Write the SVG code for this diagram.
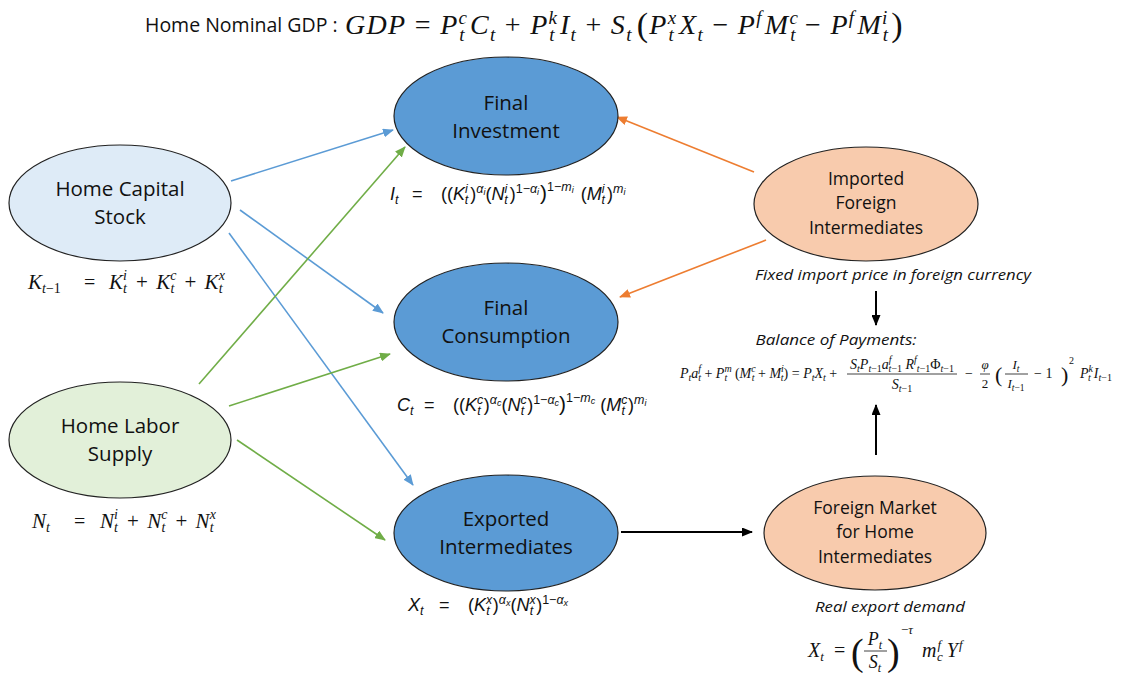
<svg xmlns="http://www.w3.org/2000/svg" width="1130" height="673" viewBox="0 0 1130 673">
<style>
.bg{fill:#ffffff}
.nd{stroke:#222;stroke-width:1.2}
.blue{fill:#5b9bd5}
.lblue{fill:#deebf7}
.lgreen{fill:#e2f0d9}
.orange{fill:#f8cbad}
.lbl{font-family:"Open Sans",sans-serif;fill:#111;text-anchor:middle}
.cap{font-family:"Open Sans",sans-serif;font-style:italic;fill:#111;text-anchor:middle}
.mt{font-family:"Liberation Serif",serif;font-style:italic;fill:#111}
.cf{font-family:"Liberation Sans",sans-serif;font-style:italic;fill:#111}
.up{font-style:normal}
.cb{stroke:#5b9bd5;stroke-width:1.6;fill:none}
.cg{stroke:#70ad47;stroke-width:1.6;fill:none}
.co{stroke:#ed7d31;stroke-width:1.6;fill:none}
.ck{stroke:#000;stroke-width:2;fill:none}
.bar{stroke:#111;stroke-width:0.8}
</style>
<defs>
<marker id="ab" markerUnits="userSpaceOnUse" markerWidth="11" markerHeight="9" refX="10" refY="4.5" orient="auto"><path d="M0,0 L11,4.5 L0,9 z" fill="#5b9bd5"/></marker>
<marker id="ag" markerUnits="userSpaceOnUse" markerWidth="11" markerHeight="9" refX="10" refY="4.5" orient="auto"><path d="M0,0 L11,4.5 L0,9 z" fill="#70ad47"/></marker>
<marker id="ao" markerUnits="userSpaceOnUse" markerWidth="11" markerHeight="9" refX="10" refY="4.5" orient="auto"><path d="M0,0 L11,4.5 L0,9 z" fill="#ed7d31"/></marker>
<marker id="ak" markerUnits="userSpaceOnUse" markerWidth="11" markerHeight="9" refX="10" refY="4.5" orient="auto"><path d="M0,0 L11,4.5 L0,9 z" fill="#000"/></marker>
</defs>
<rect class="bg" x="0" y="0" width="1130" height="673"/>

<g id="title">
<text class="lbl" x="145" y="32" font-size="19.5" style="text-anchor:start">Home Nominal GDP :</text>
<text class="mt" x="345" y="34" font-size="28" letter-spacing="1.3" xml:space="preserve">GDP<tspan class="up"> = </tspan>P<tspan font-size="19" dy="-10">c</tspan><tspan font-size="19" dx="-9" dy="17">t</tspan><tspan dx="4" dy="-7">C</tspan><tspan font-size="19" dy="7">t</tspan><tspan class="up" dy="-7"> + </tspan>P<tspan font-size="19" dy="-10">k</tspan><tspan font-size="19" dx="-9" dy="17">t</tspan><tspan dx="4" dy="-7">I</tspan><tspan font-size="19" dy="7">t</tspan><tspan class="up" dy="-7"> + </tspan>S<tspan font-size="19" dy="7">t</tspan><tspan class="up" font-size="34" dx="4" dy="-5">(</tspan><tspan dy="-2">P</tspan><tspan font-size="19" dy="-10">x</tspan><tspan font-size="19" dx="-9" dy="17">t</tspan><tspan dx="4" dy="-7">X</tspan><tspan font-size="19" dy="7">t</tspan><tspan class="up" dy="-7"> − </tspan>P<tspan font-size="19" dy="-10">f</tspan><tspan dx="2" dy="10">M</tspan><tspan font-size="19" dy="-10">c</tspan><tspan font-size="19" dx="-9" dy="17">t</tspan><tspan class="up" dy="-7"> − </tspan>P<tspan font-size="19" dy="-10">f</tspan><tspan dx="2" dy="10">M</tspan><tspan font-size="19" dy="-10">i</tspan><tspan font-size="19" dx="-6" dy="17">t</tspan><tspan class="up" font-size="34" dx="2" dy="-5">)</tspan></text>
</g>

<g id="connectors">
<line class="cb" x1="231" y1="181" x2="393" y2="130" marker-end="url(#ab)"/>
<line class="cb" x1="240" y1="210" x2="383" y2="313" marker-end="url(#ab)"/>
<line class="cb" x1="229" y1="233" x2="413" y2="485" marker-end="url(#ab)"/>
<line class="cg" x1="199" y1="384" x2="405" y2="147" marker-end="url(#ag)"/>
<line class="cg" x1="229" y1="406" x2="390" y2="354" marker-end="url(#ag)"/>
<line class="cg" x1="237" y1="440" x2="385" y2="540" marker-end="url(#ag)"/>
<line class="co" x1="754" y1="172" x2="617" y2="117" marker-end="url(#ao)"/>
<line class="co" x1="766" y1="240" x2="620" y2="297" marker-end="url(#ao)"/>
<line class="ck" x1="621" y1="532" x2="752" y2="532" marker-end="url(#ak)"/>
<line class="ck" x1="876" y1="291" x2="876" y2="325" stroke-width="1.5" marker-end="url(#ak)"/>
<line class="ck" x1="876" y1="455" x2="876" y2="405" stroke-width="1.5" marker-end="url(#ak)"/>
</g>

<g id="home-capital">
<ellipse class="nd lblue" cx="120" cy="203" rx="111" ry="58"/>
<text class="lbl" x="120" y="196" font-size="20.5">Home Capital</text>
<text class="lbl" x="120" y="224" font-size="20.5">Stock</text>
<text class="mt" x="28" y="289" font-size="21">K<tspan font-size="14" dy="4">t<tspan class="up">−1</tspan></tspan></text>
<text class="mt up" x="84" y="289" font-size="20">=</text>
<text class="mt" x="109" y="289" font-size="21" word-spacing="3" xml:space="preserve">K<tspan font-size="14" dy="-9">i</tspan><tspan font-size="14" dx="-4" dy="13">t</tspan><tspan class="up" dx="1" dy="-4"> + </tspan>K<tspan font-size="14" dy="-9">c</tspan><tspan font-size="14" dx="-6" dy="13">t</tspan><tspan class="up" dx="2" dy="-4"> + </tspan>K<tspan font-size="14" dy="-9">x</tspan><tspan font-size="14" dx="-6" dy="13">t</tspan></text>
</g>

<g id="home-labor">
<ellipse class="nd lgreen" cx="120" cy="440" rx="111" ry="58"/>
<text class="lbl" x="120" y="433" font-size="20.5">Home Labor</text>
<text class="lbl" x="120" y="461" font-size="20.5">Supply</text>
<text class="mt" x="32" y="528" font-size="21">N<tspan font-size="14" dy="4">t</tspan></text>
<text class="mt up" x="74" y="528" font-size="20">=</text>
<text class="mt" x="100" y="528" font-size="21" word-spacing="3" xml:space="preserve">N<tspan font-size="14" dy="-9">i</tspan><tspan font-size="14" dx="-4" dy="13">t</tspan><tspan class="up" dx="1" dy="-4"> + </tspan>N<tspan font-size="14" dy="-9">c</tspan><tspan font-size="14" dx="-6" dy="13">t</tspan><tspan class="up" dx="2" dy="-4"> + </tspan>N<tspan font-size="14" dy="-9">x</tspan><tspan font-size="14" dx="-6" dy="13">t</tspan></text>
</g>

<g id="final-investment">
<ellipse class="nd blue" cx="506" cy="116" rx="112" ry="59"/>
<text class="lbl" x="506" y="110" font-size="20.5">Final</text>
<text class="lbl" x="506" y="138" font-size="20.5">Investment</text>
<text class="cf" x="390" y="200" font-size="18">I<tspan font-size="12.5" dy="4">t</tspan></text>
<text class="cf up" x="412" y="200" font-size="18">=</text>
<text class="cf" x="441" y="200" font-size="18" xml:space="preserve"><tspan class="up">((</tspan>K<tspan font-size="12.5" dy="-7">i</tspan><tspan font-size="12.5" dx="-3" dy="11">t</tspan><tspan class="up" dx="2" dy="-4">)</tspan><tspan font-size="12.5" dy="-7">α</tspan><tspan font-size="9" dy="2">i</tspan><tspan class="up" dy="5">(</tspan>N<tspan font-size="12.5" dy="-7">i</tspan><tspan font-size="12.5" dx="-3" dy="11">t</tspan><tspan class="up" dx="2" dy="-4">)</tspan><tspan class="up" font-size="12.5" dy="-7">1−</tspan><tspan font-size="12.5">α</tspan><tspan font-size="9" dy="2">i</tspan><tspan class="up" font-size="21" dx="1" dy="5">)</tspan><tspan class="up" font-size="12.5" dy="-9">1−</tspan><tspan font-size="12.5">m</tspan><tspan font-size="9" dy="2">i</tspan><tspan class="up" dx="2" dy="7"> (</tspan>M<tspan font-size="12.5" dy="-7">i</tspan><tspan font-size="12.5" dx="-3" dy="11">t</tspan><tspan class="up" dx="2" dy="-4">)</tspan><tspan font-size="12.5" dy="-7">m</tspan><tspan font-size="9" dy="2">i</tspan></text>
</g>

<g id="final-consumption">
<ellipse class="nd blue" cx="506" cy="322" rx="112" ry="59"/>
<text class="lbl" x="506" y="315" font-size="20.5">Final</text>
<text class="lbl" x="506" y="343" font-size="20.5">Consumption</text>
<text class="cf" x="397" y="411" font-size="18">C<tspan font-size="12.5" dy="4">t</tspan></text>
<text class="cf up" x="424" y="411" font-size="18">=</text>
<text class="cf" x="453" y="411" font-size="18" xml:space="preserve"><tspan class="up">((</tspan>K<tspan font-size="12.5" dy="-7">c</tspan><tspan font-size="12.5" dx="-6" dy="11">t</tspan><tspan class="up" dx="3" dy="-4">)</tspan><tspan font-size="12.5" dy="-7">α</tspan><tspan font-size="9" dy="2">c</tspan><tspan class="up" dy="5">(</tspan>N<tspan font-size="12.5" dy="-7">c</tspan><tspan font-size="12.5" dx="-6" dy="11">t</tspan><tspan class="up" dx="3" dy="-4">)</tspan><tspan class="up" font-size="12.5" dy="-7">1−</tspan><tspan font-size="12.5">α</tspan><tspan font-size="9" dy="2">c</tspan><tspan class="up" font-size="21" dy="5">)</tspan><tspan class="up" font-size="12.5" dy="-9">1−</tspan><tspan font-size="12.5">m</tspan><tspan font-size="9" dy="2">c</tspan><tspan class="up" dy="7"> (</tspan>M<tspan font-size="12.5" dy="-7">c</tspan><tspan font-size="12.5" dx="-6" dy="11">t</tspan><tspan class="up" dx="3" dy="-4">)</tspan><tspan font-size="12.5" dy="-7">m</tspan><tspan font-size="9" dy="2">i</tspan></text>
</g>

<g id="exported-intermediates">
<ellipse class="nd blue" cx="506" cy="533" rx="112" ry="58"/>
<text class="lbl" x="506" y="526" font-size="20.5">Exported</text>
<text class="lbl" x="506" y="554" font-size="20.5">Intermediates</text>
<text class="cf" x="408" y="611" font-size="18">X<tspan font-size="12.5" dy="4">t</tspan></text>
<text class="cf up" x="439" y="611" font-size="18">=</text>
<text class="cf" x="468" y="611" font-size="18" xml:space="preserve"><tspan class="up">(</tspan>K<tspan font-size="12.5" dy="-7">x</tspan><tspan font-size="12.5" dx="-6" dy="11">t</tspan><tspan class="up" dx="3" dy="-4">)</tspan><tspan font-size="12.5" dy="-7">α</tspan><tspan font-size="9" dy="2">x</tspan><tspan class="up" dy="5">(</tspan>N<tspan font-size="12.5" dy="-7">x</tspan><tspan font-size="12.5" dx="-6" dy="11">t</tspan><tspan class="up" dx="3" dy="-4">)</tspan><tspan class="up" font-size="12.5" dy="-7">1−</tspan><tspan font-size="12.5">α</tspan><tspan font-size="9" dy="2">x</tspan></text>
</g>

<g id="imported-foreign-intermediates">
<ellipse class="nd orange" cx="866" cy="204" rx="112" ry="57"/>
<text class="lbl" x="866" y="185" font-size="17.5">Imported</text>
<text class="lbl" x="866" y="209" font-size="17.5">Foreign</text>
<text class="lbl" x="866" y="234" font-size="17.5">Intermediates</text>
<text class="cap" x="893" y="280" font-size="14.5" textLength="276" lengthAdjust="spacingAndGlyphs">Fixed import price in foreign currency</text>
</g>

<g id="balance-of-payments">
<text class="cap" x="836" y="345" font-size="14.5" textLength="161" lengthAdjust="spacingAndGlyphs">Balance of Payments:</text>
<text class="mt" x="680" y="378" font-size="14" xml:space="preserve">P<tspan font-size="10" dy="3">t</tspan><tspan dy="-3">a</tspan><tspan font-size="10" dy="-6">f</tspan><tspan font-size="10" dx="-3" dy="9">t</tspan><tspan class="up" dy="-3"> + </tspan>P<tspan font-size="10" dy="-6">m</tspan><tspan font-size="10" dx="-7" dy="9">t</tspan><tspan class="up" dx="4" dy="-3"> (</tspan>M<tspan font-size="10" dy="-6">c</tspan><tspan font-size="10" dx="-4" dy="9">t</tspan><tspan class="up" dy="-3"> + </tspan>M<tspan font-size="10" dy="-6">i</tspan><tspan font-size="10" dx="-3" dy="9">t</tspan><tspan class="up" dy="-3">) = </tspan>P<tspan font-size="10" dy="3">t</tspan><tspan dy="-3">X</tspan><tspan font-size="10" dy="3">t</tspan><tspan class="up" dy="-3"> +</tspan></text>
<text class="mt" x="902" y="369" font-size="14" text-anchor="middle">S<tspan font-size="10" dy="3">t</tspan><tspan dy="-3">P</tspan><tspan font-size="10" dy="3">t<tspan class="up">−1</tspan></tspan><tspan dy="-3">a</tspan><tspan font-size="10" dy="-6">f</tspan><tspan font-size="10" dx="-3" dy="9">t<tspan class="up">−1</tspan></tspan><tspan dy="-3"> R</tspan><tspan font-size="10" dy="-6">f</tspan><tspan font-size="10" dy="9">t<tspan class="up">−1</tspan></tspan><tspan class="up" dy="-3">Φ</tspan><tspan font-size="10" dy="3">t<tspan class="up">−1</tspan></tspan></text>
<line class="bar" x1="847" y1="374" x2="957" y2="374"/>
<text class="mt" x="902" y="389" font-size="14" text-anchor="middle">S<tspan font-size="10" dy="3">t<tspan class="up">−1</tspan></tspan></text>
<text class="mt up" x="965" y="378" font-size="14">−</text>
<text class="mt" x="985" y="369" font-size="13" text-anchor="middle">φ</text>
<line class="bar" x1="980" y1="374" x2="990" y2="374"/>
<text class="mt up" x="985" y="388" font-size="13" text-anchor="middle">2</text>
<text class="mt up" x="995" y="382" font-size="22">(</text>
<text class="mt" x="1016" y="369" font-size="13" text-anchor="middle">I<tspan font-size="9.5" dy="3">t</tspan></text>
<line class="bar" x1="1005" y1="374" x2="1028" y2="374"/>
<text class="mt" x="1016" y="388" font-size="13" text-anchor="middle">I<tspan font-size="9.5" dy="3">t<tspan class="up">−1</tspan></tspan></text>
<text class="mt up" x="1034" y="378" font-size="14" xml:space="preserve">− 1</text>
<text class="mt up" x="1061" y="382" font-size="22">)</text>
<text class="mt up" x="1069" y="364" font-size="10">2</text>
<text class="mt" x="1080" y="378" font-size="14">P<tspan font-size="10" dy="-6">k</tspan><tspan font-size="10" dx="-5" dy="9">t</tspan><tspan dx="3" dy="-3">I</tspan><tspan font-size="10" dy="3">t<tspan class="up">−1</tspan></tspan></text>
</g>

<g id="foreign-market">
<ellipse class="nd orange" cx="875" cy="533" rx="111" ry="57"/>
<text class="lbl" x="875" y="514" font-size="17.5">Foreign Market</text>
<text class="lbl" x="875" y="538" font-size="17.5">for Home</text>
<text class="lbl" x="875" y="563" font-size="17.5">Intermediates</text>
<text class="cap" x="890" y="612" font-size="14.5" textLength="150" lengthAdjust="spacingAndGlyphs">Real export demand</text>
<text class="mt" x="808" y="657" font-size="20">X<tspan font-size="13" dy="4">t</tspan></text>
<text class="mt up" x="834" y="657" font-size="20">=</text>
<text class="mt up" x="851" y="665" font-size="38">(</text>
<text class="mt" x="875" y="645" font-size="18" text-anchor="middle">P<tspan font-size="12" dy="4">t</tspan></text>
<line class="bar" x1="864" y1="651" x2="887" y2="651"/>
<text class="mt" x="875" y="668" font-size="18" text-anchor="middle">S<tspan font-size="12" dy="4">t</tspan></text>
<text class="mt up" x="887" y="665" font-size="38">)</text>
<text class="mt" x="901" y="634" font-size="13"><tspan class="up">−</tspan>τ</text>
<text class="mt" x="922" y="657" font-size="20" letter-spacing="1">m<tspan font-size="13" dy="-8">f</tspan><tspan font-size="13" dx="-5" dy="12">c</tspan><tspan dx="3" dy="-4">Y</tspan><tspan font-size="13" dy="-8">f</tspan></text>
</g>
</svg>
